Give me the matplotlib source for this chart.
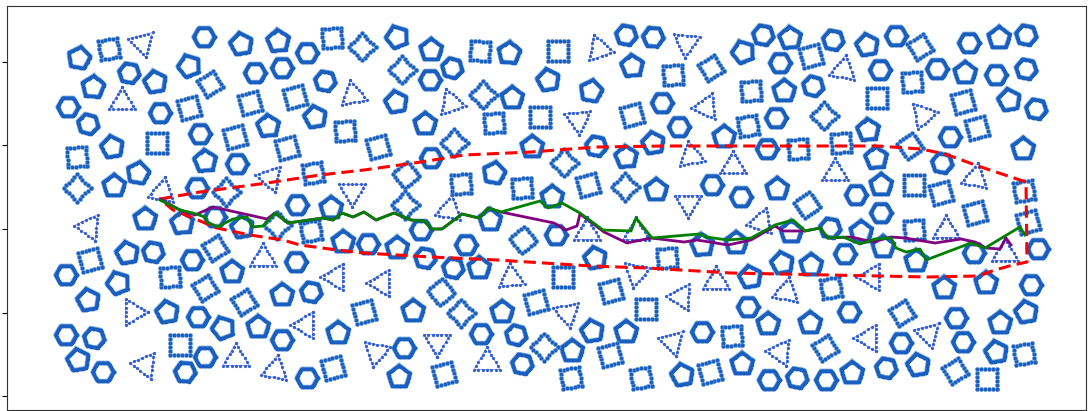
import numpy as np
import matplotlib
matplotlib.use("Agg")
import matplotlib.pyplot as plt

# obstacle map in map (pixel) units, y grows downward
# (x, y, angle in degrees)
hexagons = [
    (204, 37, 0), (307, 53, 0), (129, 73, 10), (255, 73, 0), (282, 68, 0), (325, 81, 10),
    (68, 107, 0), (160, 113, 0), (88, 124, 15), (200, 134, 0), (237, 164, 0), (197, 188, 0),
    (297, 205, 0), (626, 35, 10), (653, 37, 5), (452, 68, 15), (430, 80, 0), (662, 103, 0),
    (679, 127, 0), (431, 158, 0), (596, 146, 10), (712, 185, 0), (763, 35, 10), (833, 40, 10),
    (896, 36, 0), (969, 43, 0), (1026, 35, 10), (780, 63, 0), (880, 70, 0), (937, 69, 0),
    (996, 75, 0), (1026, 69, 10), (813, 86, 15), (1036, 109, 10), (776, 118, 0), (950, 137, 0),
    (767, 149, 0), (942, 163, 10), (741, 197, 0), (856, 195, 0), (215, 217, 0), (153, 252, 10),
    (192, 260, 0), (296, 262, 0), (66, 275, 0), (198, 317, 0), (311, 292, 10), (282, 340, 0),
    (66, 335, 0), (94, 338, 10), (205, 357, 0), (185, 372, 5), (103, 372, 0), (307, 378, 0),
    (368, 244, 0), (421, 230, 0), (466, 245, 0), (556, 235, 0), (425, 258, 10), (453, 268, 10),
    (481, 334, 0), (516, 335, 15), (702, 332, 0), (404, 348, 0), (522, 364, 10), (881, 213, 0),
    (830, 228, 10), (974, 253, 0), (1038, 249, 0), (845, 254, 0), (1031, 285, 0), (748, 307, 0),
    (849, 312, 0), (956, 318, 0), (901, 343, 0), (963, 342, 0), (886, 368, 10), (769, 380, 0),
    (797, 378, 10), (826, 380, 0),
]

pentagons = [
    (79, 58, -80), (241, 44, -100), (278, 41, -95), (155, 82, -100), (189, 66, -110), (93, 87, -85),
    (315, 117, -100), (268, 126, -95), (112, 147, -100), (205, 161, -95), (138, 173, -80),
    (114, 186, -90), (331, 208, -90), (397, 37, -110), (431, 50, -90), (509, 53, -85),
    (548, 80, -100), (591, 91, -80), (632, 66, -95), (396, 102, -100), (512, 98, -90),
    (425, 124, -90), (724, 137, -90), (532, 147, -90), (653, 143, -100), (626, 157, -95),
    (494, 173, -80), (656, 190, -90), (552, 197, -90), (743, 52, -110), (790, 38, -95),
    (867, 45, -100), (999, 38, -90), (965, 73, -90), (784, 91, -90), (1009, 100, -100),
    (868, 130, -95), (1023, 149, -90), (876, 158, -95), (777, 189, -90), (881, 185, -90),
    (145, 219, -90), (182, 223, -95), (242, 227, -100), (343, 242, -90), (127, 253, -100),
    (232, 272, -90), (118, 283, -110), (282, 295, -90), (88, 300, -100), (167, 312, -100),
    (223, 328, -110), (258, 327, -90), (338, 333, -90), (78, 360, -100), (397, 248, -90),
    (490, 220, -90), (702, 245, -95), (595, 258, -100), (479, 268, -90), (413, 311, -90),
    (502, 312, -90), (592, 331, -100), (626, 332, -90), (572, 351, -90), (399, 377, -90),
    (682, 375, -100), (791, 232, -90), (861, 232, -90), (736, 243, -90), (883, 247, -90),
    (916, 261, -90), (782, 263, -100), (811, 265, -90), (750, 277, -100), (944, 288, -90),
    (986, 283, -90), (1026, 312, -100), (768, 324, -90), (810, 323, -90), (1000, 323, -90),
    (996, 352, -100), (742, 364, -90), (918, 365, -100), (852, 373, -90),
]

squares = [
    (109, 49, 35), (332, 38, 40), (362, 47, 0), (210, 84, 15), (189, 108, 30), (250, 103, 30),
    (295, 97, 30), (235, 137, 30), (345, 131, 40), (157, 143, 45), (77, 157, 40), (287, 148, 30),
    (313, 173, 35), (77, 188, 0), (226, 192, 0), (480, 51, 50), (558, 51, 45), (673, 75, 40),
    (711, 68, 15), (402, 70, 0), (483, 95, 0), (540, 117, 45), (632, 115, 30), (494, 123, 40),
    (378, 147, 30), (454, 143, 0), (406, 175, 5), (564, 163, 0), (461, 184, 40), (522, 188, 40),
    (588, 185, 30), (625, 187, 0), (405, 205, 0), (811, 56, 30), (920, 47, 15), (912, 82, 40),
    (751, 91, 40), (877, 98, 45), (963, 102, 30), (748, 126, 35), (824, 116, 0), (977, 128, 30),
    (910, 146, 10), (798, 149, 40), (841, 143, 40), (1024, 191, 35), (807, 205, 10), (914, 185, 45),
    (941, 193, 30), (277, 225, 0), (311, 231, 35), (90, 260, 30), (215, 248, 15), (170, 277, 40),
    (205, 288, 15), (244, 302, 15), (180, 345, 45), (333, 368, 30), (364, 312, 30), (523, 240, 5),
    (667, 258, 40), (563, 277, 45), (441, 292, 5), (611, 291, 30), (536, 302, 30), (461, 313, 0),
    (646, 309, 45), (544, 347, 0), (610, 355, 30), (444, 374, 30), (571, 378, 35), (641, 378, 35),
    (710, 372, 30), (732, 336, 40), (975, 213, 30), (914, 230, 40), (1028, 222, 30), (831, 288, 35),
    (902, 313, 15), (825, 348, 15), (1024, 354, 35), (955, 371, 15), (987, 379, 45),
]

triangles = [
    (142, 43, 75), (353, 95, -100), (122, 102, -90), (270, 178, 70), (162, 192, -80), (352, 192, 90),
    (599, 49, -110), (686, 43, 95), (451, 103, -110), (578, 120, 85), (706, 107, -65), (691, 156, -100),
    (733, 166, -90), (449, 210, -80), (688, 203, 90), (843, 70, -80), (923, 115, -130), (835, 173, -90),
    (975, 178, -80), (89, 227, 65), (263, 258, -90), (335, 277, -60), (133, 312, 0), (305, 325, -60),
    (236, 358, -90), (145, 365, 67), (275, 370, -80), (587, 232, -90), (636, 232, -90), (511, 278, -95),
    (636, 273, 100), (716, 281, -90), (381, 283, 60), (681, 297, 62), (567, 313, 80), (437, 342, 90),
    (376, 352, 100), (672, 342, 75), (487, 362, -90), (761, 222, -70), (946, 230, -90), (1005, 253, -90),
    (871, 277, -60), (786, 292, -80), (868, 338, 60), (928, 334, -45), (780, 352, 65),
]

# search region boundary
region_x = [160, 200, 267, 320, 364, 421, 464, 531, 597, 664, 728, 878, 921, 945, 981, 1026,
            1027, 1013, 995, 978, 928, 731, 647, 591, 497, 431, 364, 337, 300, 283, 250, 217,
            193, 173, 160]
region_y = [199, 192, 183, 175, 170, 162, 155, 152, 147, 146, 146, 146, 149, 154, 167, 182,
            262, 265, 270, 276, 277, 273, 268, 266, 260, 257, 253, 250, 245, 240, 235, 228,
            218, 210, 199]

# raw path (purple)
raw_x = [160, 180, 195, 213, 267, 275, 288, 323, 333, 342, 353, 364, 376, 394, 411, 424, 432,
         442, 462, 479, 488, 501, 554, 566, 577, 580, 604, 627, 651, 684, 697, 728, 751, 775,
         783, 805, 820, 828, 851, 873, 891, 905, 935, 961, 975, 986, 1000, 1006, 1011]
raw_y = [199, 210, 215, 207, 219, 213, 223, 218, 220, 213, 217, 212, 220, 213, 220, 221, 229,
         229, 214, 218, 208, 212, 223, 230, 226, 214, 232, 243, 238, 242, 240, 245, 240, 226,
         231, 231, 228, 238, 237, 242, 237, 238, 243, 239, 242, 248, 249, 238, 245]

# optimised path (green)
opt_x = [160, 180, 193, 205, 207, 218, 225, 233, 247, 252, 263, 275, 288, 323, 333, 342, 353,
         364, 376, 394, 411, 424, 432, 442, 462, 479, 488, 501, 540, 548, 562, 580, 603, 631,
         636, 652, 699, 706, 728, 751, 775, 793, 805, 820, 828, 843, 860, 875, 891, 896, 906,
         920, 926, 971, 985, 1020, 1025]
opt_y = [200, 210, 213, 217, 222, 227, 223, 219, 217, 227, 226, 213, 223, 218, 220, 213, 217,
         212, 220, 213, 220, 221, 229, 229, 214, 218, 208, 212, 201, 208, 203, 213, 230, 231,
         218, 238, 234, 237, 240, 238, 225, 220, 231, 228, 238, 237, 244, 239, 238, 248, 252,
         249, 260, 243, 248, 227, 235]

BLUE = "#1a5fbf"


def outline(cx, cy, r, n, angle, per_edge):
    a = np.deg2rad(angle + np.arange(n + 1) * 360.0 / n)
    vx = cx + r * np.cos(a)
    vy = cy + r * np.sin(a)
    xs, ys = [], []
    for i in range(n):
        t = np.linspace(0, 1, per_edge, endpoint=False)
        xs.append(vx[i] + (vx[i + 1] - vx[i]) * t)
        ys.append(vy[i] + (vy[i + 1] - vy[i]) * t)
    xs.append([vx[0]])
    ys.append([vy[0]])
    return np.concatenate(xs), np.concatenate(ys)


fig = plt.figure(figsize=(10.92, 4.11), dpi=100)
ax = fig.add_axes([7 / 1092, 1 / 411, 1079 / 1092, 404 / 411])

for x, y, ang in hexagons:
    px, py = outline(x, y, 10.5, 6, ang, 8)
    ax.plot(px, py, "-", color="#8fbbe8", lw=3.4)
    ax.plot(px, py, "-o", color=BLUE, lw=2.0, ms=2.6, mew=0)

for x, y, ang in pentagons:
    px, py = outline(x, y, 11.5, 5, ang, 9)
    ax.plot(px, py, "-", color="#8fbbe8", lw=3.4)
    ax.plot(px, py, "-o", color=BLUE, lw=2.0, ms=2.6, mew=0)

for x, y, ang in squares:
    px, py = outline(x, y, 13.5, 4, ang, 5)
    ax.plot(px, py, "o", color=BLUE, ms=3.0, mec="#6a9fde", mew=0.4)

for x, y, ang in triangles:
    px, py = outline(x, y, 15, 3, ang, 6)
    ax.plot(px, py, "-", color="#8a8aff", lw=0.6)
    ax.plot(px, py, "o", color="#2f5fd0", ms=2.3, mew=0)

ax.plot(region_x, region_y, "--", color="red", lw=2.2, dashes=(4, 2))
ax.plot(raw_x, raw_y, "-", color="purple", lw=2)
ax.plot(opt_x, opt_y, "-", color="green", lw=2)

ax.set_xlim(7, 1086)
ax.set_ylim(410, 6)
ax.set_xticks([])
ax.set_yticks([62, 145.5, 229, 312.5, 396])
ax.set_yticklabels([])
for s in ax.spines.values():
    s.set_color("#333333")

fig.savefig("out.png", dpi=100)
